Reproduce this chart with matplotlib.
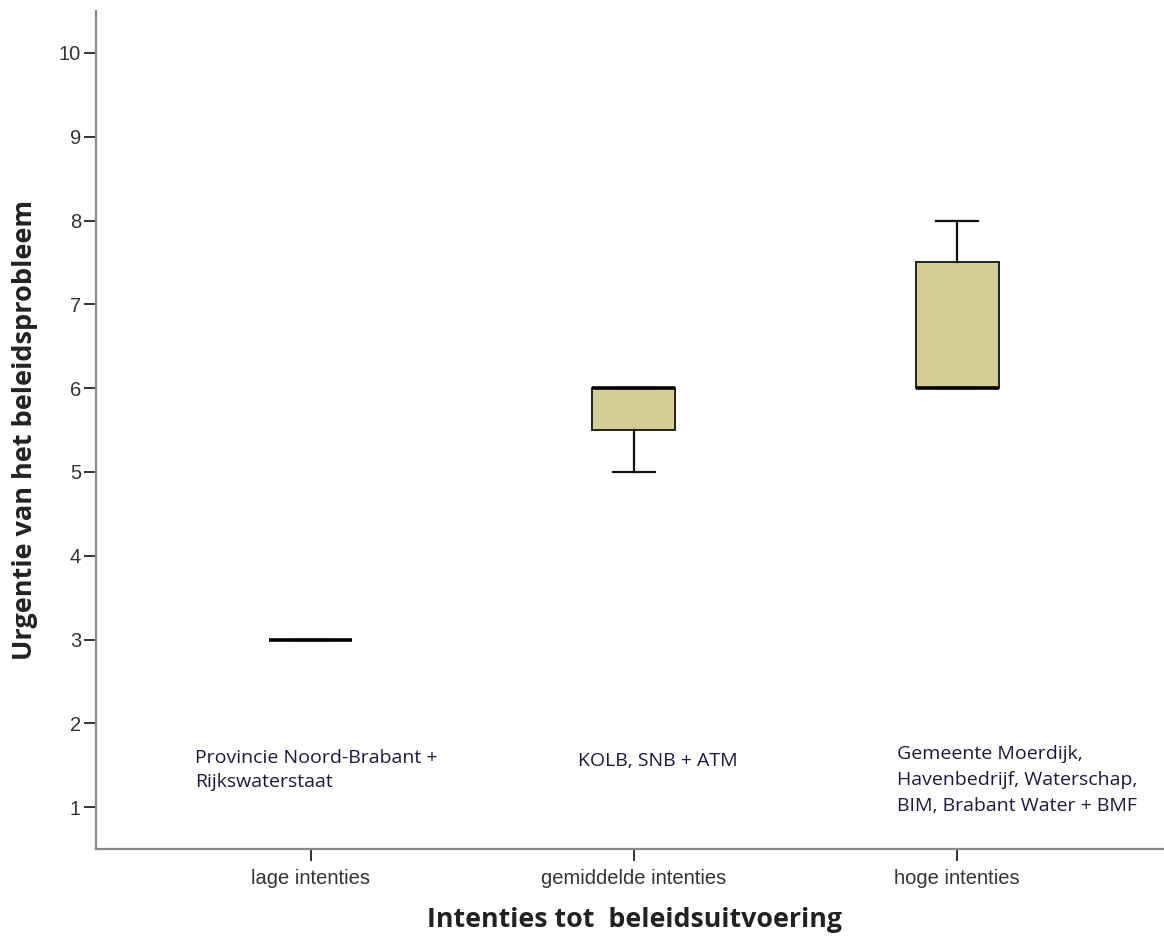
import matplotlib.pyplot as plt

# Data
categories = ["lage intenties", "gemiddelde intenties", "hoge intenties"]
medians = [3, 6, 6]
q1 = [3, 5.5, 6]
q3 = [3, 6, 7.5]
whislo = [3, 5, 6]
whishi = [3, 6, 8]
groups = [
    "Provincie Noord-Brabant +\nRijkswaterstaat",
    "KOLB, SNB + ATM",
    "Gemeente Moerdijk,\nHavenbedrijf, Waterschap,\nBIM, Brabant Water + BMF",
]
yticks = list(range(1, 11))

stats = []
for i in range(len(categories)):
    stats.append({"med": medians[i], "q1": q1[i], "q3": q3[i],
                  "whislo": whislo[i], "whishi": whishi[i], "fliers": []})

fig = plt.figure(figsize=(11.64, 9.38), dpi=100)
ax = fig.add_axes([0.0822, 0.0949, 0.9178, 0.8933])

ax.bxp(stats, positions=[1, 2, 3], widths=0.257, patch_artist=True,
       showfliers=False,
       boxprops=dict(facecolor="#d3ce97", edgecolor="#222222", linewidth=1.4),
       medianprops=dict(color="black", linewidth=2.6),
       whiskerprops=dict(color="#111111", linewidth=1.6),
       capprops=dict(color="#111111", linewidth=1.6),
       capwidths=0.128)

ax.set_xlim(0.335, 3.64)
ax.set_ylim(0.5, 10.5)
ax.set_xticks([1, 2, 3])
ax.set_xticklabels(categories, fontsize=14.5, color="#333333", family="Liberation Sans")
ax.set_yticks(yticks)
ax.set_yticklabels([str(t) for t in yticks], fontsize=14.5, color="#333333", family="Liberation Sans")
ax.tick_params(axis="both", direction="out", length=8.5, width=1.4, color="#333333")
ax.tick_params(axis="y", pad=2)
ax.tick_params(axis="x", pad=6)

for side in ["top", "right"]:
    ax.spines[side].set_visible(False)
for side in ["left", "bottom"]:
    ax.spines[side].set_color("#8a8a8a")
    ax.spines[side].set_linewidth(1.6)

# group annotations
ax.text(0.642, 1.44, groups[0], fontsize=14, family="Open Sans", color="#1a1a3a",
        va="center", ha="left", linespacing=1.45)
ax.text(1.827, 1.55, groups[1], fontsize=14, family="Open Sans", color="#1a1a3a",
        va="center", ha="left")
ax.text(2.814, 1.32, groups[2], fontsize=14, family="Open Sans", color="#1a1a3a",
        va="center", ha="left", linespacing=1.57)

fig.text(0.545, 0.019, "Intenties tot  beleidsuitvoering", fontsize=19.3,
         fontweight="bold", family="Open Sans", color="#222222", ha="center", va="center")
fig.text(0.0215, 0.5416, "Urgentie van het beleidsprobleem", fontsize=19.5,
         fontweight="bold", family="Open Sans", color="#222222", ha="center", va="center",
         rotation=90)

plt.savefig("out.png", dpi=100)
